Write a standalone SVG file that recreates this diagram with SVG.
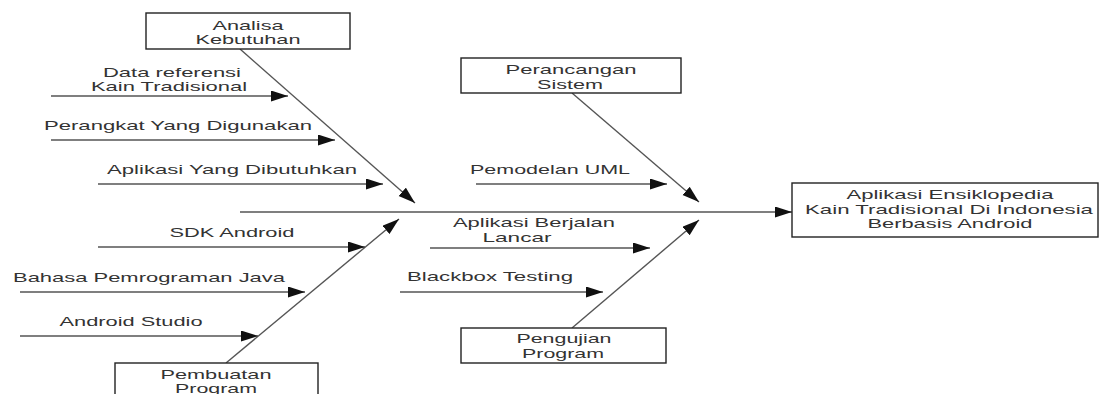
<svg xmlns="http://www.w3.org/2000/svg" width="1099" height="394" viewBox="0 0 1099 394">
  <style>
    .box { fill: #fff; stroke: #222; stroke-width: 1.4; }
    .ln { stroke: #555; stroke-width: 1.4; fill: none; marker-end: url(#arr); }
    text { font-family: "Liberation Sans", Arial, sans-serif; font-size: 13px; fill: #333; text-anchor: middle; }
  </style>
  <defs>
    <marker id="arr" markerUnits="userSpaceOnUse" markerWidth="18" markerHeight="12" refX="17" refY="5.5" orient="auto">
      <path d="M0,0 L17,5.5 L0,11 z" fill="#111"/>
    </marker>
  </defs>
  <rect width="1099" height="394" fill="#fff"/>

  <!-- connectors: spine, bones and their causes -->
  <g id="connectors">
    <line class="ln" x1="240" y1="212" x2="792" y2="212"/>
    <line class="ln" x1="240" y1="49" x2="415" y2="203"/>
    <line class="ln" x1="226" y1="363" x2="399" y2="219"/>
    <line class="ln" x1="572" y1="93" x2="699" y2="202"/>
    <line class="ln" x1="572" y1="328" x2="699" y2="220"/>
    <line class="ln" x1="51" y1="96" x2="288" y2="96"/>
    <line class="ln" x1="51" y1="140" x2="335" y2="140"/>
    <line class="ln" x1="98" y1="184" x2="383" y2="184"/>
    <line class="ln" x1="98" y1="247" x2="365" y2="247"/>
    <line class="ln" x1="20" y1="292" x2="305" y2="292"/>
    <line class="ln" x1="20" y1="336" x2="258" y2="336"/>
    <line class="ln" x1="476" y1="184" x2="667" y2="184"/>
    <line class="ln" x1="430" y1="248" x2="650" y2="248"/>
    <line class="ln" x1="400" y1="292" x2="603" y2="292"/>
  </g>

  <!-- cause labels -->
  <g id="labels">
    <text x="172" y="77" textLength="138" lengthAdjust="spacingAndGlyphs">Data referensi</text>
    <text x="169" y="91" textLength="156" lengthAdjust="spacingAndGlyphs">Kain Tradisional</text>
    <text x="178" y="130" textLength="268" lengthAdjust="spacingAndGlyphs">Perangkat Yang Digunakan</text>
    <text x="232" y="174" textLength="250" lengthAdjust="spacingAndGlyphs">Aplikasi Yang Dibutuhkan</text>
    <text x="232" y="237" textLength="125" lengthAdjust="spacingAndGlyphs">SDK Android</text>
    <text x="149" y="282" textLength="272" lengthAdjust="spacingAndGlyphs">Bahasa Pemrograman Java</text>
    <text x="131" y="326" textLength="143" lengthAdjust="spacingAndGlyphs">Android Studio</text>
    <text x="550" y="174" textLength="160" lengthAdjust="spacingAndGlyphs">Pemodelan UML</text>
    <text x="534" y="227" textLength="162" lengthAdjust="spacingAndGlyphs">Aplikasi Berjalan</text>
    <text x="517" y="242" textLength="69" lengthAdjust="spacingAndGlyphs">Lancar</text>
    <text x="490" y="281" textLength="166" lengthAdjust="spacingAndGlyphs">Blackbox Testing</text>
  </g>

  <g id="analisa">
    <rect class="box" x="146" y="13" width="204" height="36"/>
    <text x="248" y="30" textLength="71" lengthAdjust="spacingAndGlyphs">Analisa</text>
    <text x="248" y="44" textLength="105" lengthAdjust="spacingAndGlyphs">Kebutuhan</text>
  </g>

  <g id="pembuatan">
    <rect class="box" x="115" y="363" width="203" height="40"/>
    <text x="216" y="379" textLength="111" lengthAdjust="spacingAndGlyphs">Pembuatan</text>
    <text x="216" y="393" textLength="82" lengthAdjust="spacingAndGlyphs">Program</text>
  </g>

  <g id="perancangan">
    <rect class="box" x="461" y="58" width="220" height="35"/>
    <text x="571" y="74" textLength="131" lengthAdjust="spacingAndGlyphs">Perancangan</text>
    <text x="570" y="89" textLength="66" lengthAdjust="spacingAndGlyphs">Sistem</text>
  </g>

  <g id="pengujian">
    <rect class="box" x="461" y="328" width="205" height="35"/>
    <text x="564" y="343" textLength="95" lengthAdjust="spacingAndGlyphs">Pengujian</text>
    <text x="563" y="358" textLength="82" lengthAdjust="spacingAndGlyphs">Program</text>
  </g>

  <g id="hasil">
    <rect class="box" x="792" y="183" width="306" height="54"/>
    <text x="950" y="199" textLength="207" lengthAdjust="spacingAndGlyphs">Aplikasi Ensiklopedia</text>
    <text x="949" y="214" textLength="288" lengthAdjust="spacingAndGlyphs">Kain Tradisional Di Indonesia</text>
    <text x="950" y="228" textLength="165" lengthAdjust="spacingAndGlyphs">Berbasis Android</text>
  </g>
</svg>
